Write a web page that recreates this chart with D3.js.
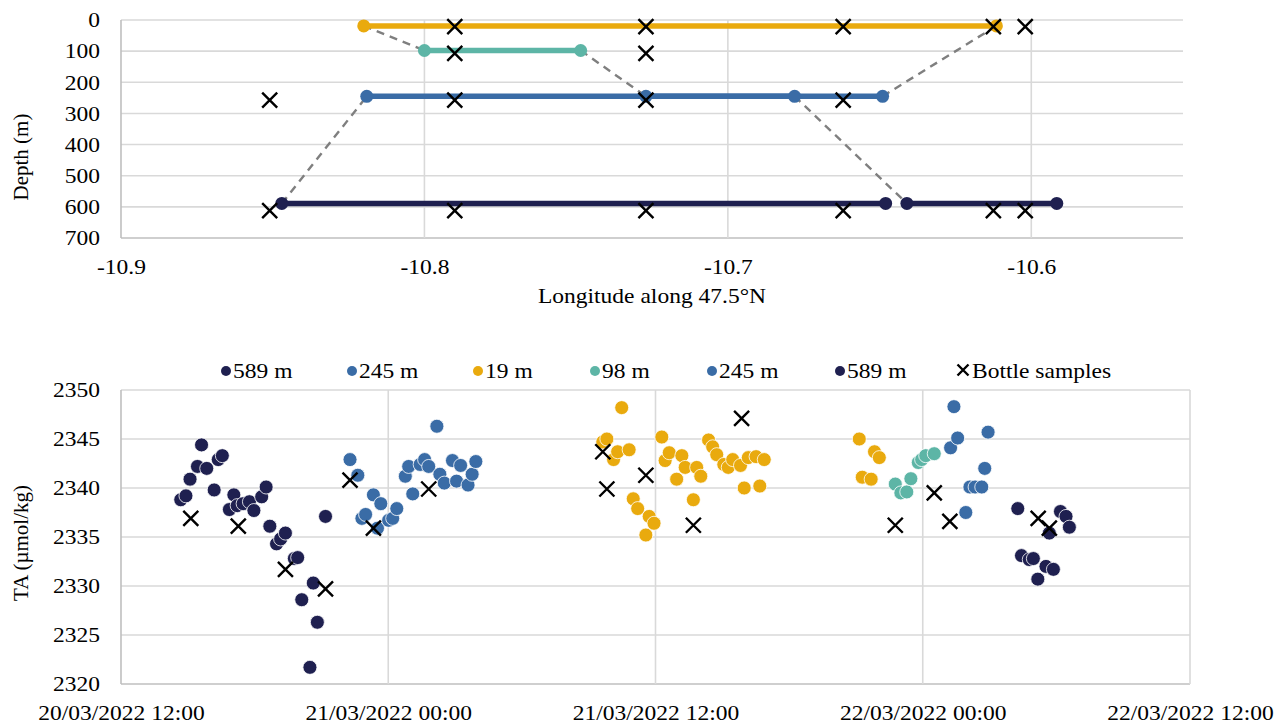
<!DOCTYPE html>
<html><head><meta charset="utf-8">
<script src="https://cdn.jsdelivr.net/npm/d3@7"></script>
<style>
body{margin:0;background:#fff}
</style>
</head><body>
<svg id="c" width="1275" height="724" font-family="Liberation Serif"></svg>
<script>
// ---------------- DATA ----------------
// Top chart: depth transects (in time order)
const segmentLabels   = ["589 m","245 m","19 m","98 m","245 m","589 m"];
const segmentDepths   = [589, 245, 19, 98, 245, 589];
const segmentStartLon = [-10.648, -10.819, -10.6115, -10.800, -10.727, -10.641];
const segmentEndLon   = [-10.847, -10.649, -10.820, -10.7485, -10.678, -10.5916];
// Top chart: bottle samples
const bottleLon   = [-10.851,-10.851, -10.790,-10.790,-10.790,-10.790, -10.727,-10.727,-10.727,-10.727, -10.662,-10.662,-10.662, -10.6125,-10.6125, -10.602,-10.602];
const bottleDepth = [257,612, 21,107,257,612, 21,107,257,612, 21,257,612, 21,612, 21,612];
const topXTicks = [-10.9,-10.8,-10.7,-10.6];
const topYTicks = [0,100,200,300,400,500,600,700];

// Bottom chart: TA time series
const s589aTime = ["2022-03-20 14:41","2022-03-20 14:55","2022-03-20 15:06","2022-03-20 15:26","2022-03-20 15:37","2022-03-20 15:51","2022-03-20 16:11","2022-03-20 16:22","2022-03-20 16:33","2022-03-20 16:52","2022-03-20 17:04","2022-03-20 17:13","2022-03-20 17:29","2022-03-20 17:46","2022-03-20 17:58","2022-03-20 18:19","2022-03-20 18:31","2022-03-20 18:41","2022-03-20 18:59","2022-03-20 19:10","2022-03-20 19:23","2022-03-20 19:47","2022-03-20 19:56","2022-03-20 20:07","2022-03-20 20:29","2022-03-20 20:38","2022-03-20 20:49","2022-03-20 21:11"];
const s589aTA   = [2338.8,2339.2,2340.9,2342.2,2344.4,2342.0,2339.8,2342.9,2343.3,2337.8,2339.3,2338.2,2338.4,2338.6,2337.7,2339.1,2340.1,2336.1,2334.3,2334.8,2335.4,2332.8,2332.9,2328.6,2321.7,2330.3,2326.3,2337.1];
const s245aTime = ["2022-03-20 22:17","2022-03-20 22:38","2022-03-20 22:49","2022-03-20 22:59","2022-03-20 23:20","2022-03-20 23:31","2022-03-20 23:40","2022-03-21 00:01","2022-03-21 00:12","2022-03-21 00:23","2022-03-21 00:46","2022-03-21 00:55","2022-03-21 01:06","2022-03-21 01:26","2022-03-21 01:38","2022-03-21 01:49","2022-03-21 02:11","2022-03-21 02:19","2022-03-21 02:31","2022-03-21 02:53","2022-03-21 03:04","2022-03-21 03:15","2022-03-21 03:35","2022-03-21 03:46","2022-03-21 03:56"];
const s245aTA   = [2342.9,2341.3,2336.9,2337.3,2339.3,2335.9,2338.4,2336.7,2336.9,2337.9,2341.2,2342.2,2339.4,2342.4,2342.9,2342.2,2346.3,2341.4,2340.5,2342.8,2340.7,2342.3,2340.3,2341.4,2342.7];
const s19Time = ["2022-03-21 09:38","2022-03-21 09:49","2022-03-21 10:07","2022-03-21 10:18","2022-03-21 10:29","2022-03-21 10:49","2022-03-21 11:00","2022-03-21 11:12","2022-03-21 11:34","2022-03-21 11:43","2022-03-21 11:56","2022-03-21 12:17","2022-03-21 12:26","2022-03-21 12:37","2022-03-21 12:57","2022-03-21 13:11","2022-03-21 13:20","2022-03-21 13:42","2022-03-21 13:51","2022-03-21 14:02","2022-03-21 14:23","2022-03-21 14:34","2022-03-21 14:45","2022-03-21 15:04","2022-03-21 15:16","2022-03-21 15:28","2022-03-21 15:49","2022-03-21 15:59","2022-03-21 16:10","2022-03-21 16:31","2022-03-21 16:41","2022-03-21 16:53","2022-03-21 21:09","2022-03-21 21:17","2022-03-21 21:41","2022-03-21 21:50","2022-03-21 22:03"];
const s19TA   = [2344.7,2345.0,2342.9,2343.7,2348.2,2343.9,2338.9,2337.9,2335.2,2337.1,2336.4,2345.2,2342.8,2343.6,2340.9,2343.3,2342.1,2338.8,2342.1,2341.2,2344.9,2344.2,2343.4,2342.4,2342.1,2342.9,2342.3,2340.0,2343.1,2343.2,2340.2,2342.9,2345.0,2341.1,2340.9,2343.7,2343.1];
const s98Time = ["2022-03-21 22:46","2022-03-21 23:01","2022-03-21 23:17","2022-03-21 23:28","2022-03-21 23:48","2022-03-21 23:57","2022-03-22 00:08","2022-03-22 00:31"];
const s98TA   = [2340.4,2339.5,2339.6,2340.95,2342.6,2342.9,2343.3,2343.5];
const s245bTime = ["2022-03-22 01:15","2022-03-22 01:24","2022-03-22 01:34","2022-03-22 01:56","2022-03-22 02:07","2022-03-22 02:21","2022-03-22 02:39","2022-03-22 02:47","2022-03-22 02:56"];
const s245bTA   = [2344.1,2348.3,2345.1,2337.5,2340.1,2340.1,2340.1,2342.0,2345.7];
const s589bTime = ["2022-03-22 04:16","2022-03-22 04:26","2022-03-22 04:47","2022-03-22 04:58","2022-03-22 05:10","2022-03-22 05:32","2022-03-22 05:41","2022-03-22 05:52","2022-03-22 06:11","2022-03-22 06:26","2022-03-22 06:35"];
const s589bTA   = [2337.9,2333.1,2332.7,2332.8,2330.7,2332.0,2335.4,2331.7,2337.6,2337.1,2336.0];
const bottleTime = ["2022-03-20 15:08","2022-03-20 17:16","2022-03-20 19:23","2022-03-20 21:11","2022-03-20 22:17","2022-03-20 23:20","2022-03-21 01:49","2022-03-21 09:38","2022-03-21 09:49","2022-03-21 11:34","2022-03-21 13:42","2022-03-21 15:52","2022-03-21 22:46","2022-03-22 00:31","2022-03-22 01:13","2022-03-22 05:11","2022-03-22 05:41"];
const bottleTA   = [2336.9,2336.1,2331.7,2329.7,2340.8,2335.9,2339.9,2343.7,2339.9,2341.3,2336.2,2347.1,2336.2,2339.5,2336.6,2336.9,2335.9];
const botXTickTimes  = ["2022-03-20 12:00","2022-03-21 00:00","2022-03-21 12:00","2022-03-22 00:00","2022-03-22 12:00"];
const botXTickLabels = ["20/03/2022 12:00","21/03/2022 00:00","21/03/2022 12:00","22/03/2022 00:00","22/03/2022 12:00"];
const botYTicks = [2320,2325,2330,2335,2340,2345,2350];

// ---------------- STYLE ----------------
const C_NAVY="#1f2050", C_BLUE="#3a6ca6", C_GOLD="#e9aa0e", C_TEAL="#5db5a6";
const depthColor = {"589 m":C_NAVY,"245 m":C_BLUE,"19 m":C_GOLD,"98 m":C_TEAL};
const GRID="#d9d9d9", AXIS="#bfbfbf", FS=21, SX=1.12;
const parse = d3.timeParse("%Y-%m-%d %H:%M");
const svg = d3.select("#c");
const xPath = s => `M${-s},${-s}L${s},${s}M${-s},${s}L${s},${-s}`;

// ---------------- TOP CHART ----------------
const xTop = d3.scaleLinear().domain([-10.9,-10.55]).range([121,1183]);
const yTop = d3.scaleLinear().domain([0,700]).range([20,238]);
const gTop = svg.append("g");
gTop.selectAll(".hg").data(topYTicks).join("line")
  .attr("x1",xTop(-10.9)).attr("x2",xTop(-10.55))
  .attr("y1",d=>yTop(d)).attr("y2",d=>yTop(d))
  .attr("stroke",d=>d===700?AXIS:GRID).attr("stroke-width",1.6);
gTop.selectAll(".vg").data(topXTicks).join("line")
  .attr("x1",d=>xTop(d)).attr("x2",d=>xTop(d))
  .attr("y1",yTop(0)).attr("y2",yTop(700))
  .attr("stroke",d=>d===-10.9?AXIS:GRID).attr("stroke-width",1.6);

gTop.append("g").attr("transform",`translate(${xTop(-10.9)},0)`)
  .call(d3.axisLeft(yTop).tickValues(topYTicks).tickSize(0).tickPadding(21).tickFormat(d=>d))
  .call(g=>g.select(".domain").remove());
gTop.append("g").attr("transform",`translate(0,${yTop(700)})`)
  .call(d3.axisBottom(xTop).tickValues(topXTicks).tickSize(0).tickPadding(21).tickFormat(d=>d.toFixed(1)))
  .call(g=>g.select(".domain").remove());

// dashed connectors
const connectors = d3.range(segmentDepths.length-1).map(i=>[[segmentEndLon[i],segmentDepths[i]],[segmentStartLon[i+1],segmentDepths[i+1]]]);
const lineTop = d3.line().x(d=>xTop(d[0])).y(d=>yTop(d[1]));
gTop.selectAll(".conn").data(connectors).join("path")
  .attr("d",lineTop).attr("fill","none").attr("stroke","#7f7f7f")
  .attr("stroke-width",2.4).attr("stroke-dasharray","8,6");
// segments
const segs = segmentDepths.map((d,i)=>({label:segmentLabels[i],pts:[[segmentStartLon[i],d],[segmentEndLon[i],d]]}));
gTop.selectAll(".seg").data(segs).join("path")
  .attr("d",d=>lineTop(d.pts)).attr("fill","none")
  .attr("stroke",d=>depthColor[d.label]).attr("stroke-width",5.5);
segs.forEach(s=>{
  gTop.append("g").selectAll("circle").data(s.pts).join("circle")
    .attr("cx",d=>xTop(d[0])).attr("cy",d=>yTop(d[1])).attr("r",6.5)
    .attr("fill",depthColor[s.label]);
});
// bottle samples
gTop.append("g").selectAll("path").data(bottleLon.map((l,i)=>[l,bottleDepth[i]])).join("path")
  .attr("transform",d=>`translate(${xTop(d[0])},${yTop(d[1])})`)
  .attr("d",xPath(7.5)).attr("stroke","#000").attr("stroke-width",2.4).attr("fill","none");

gTop.append("text").attr("x",(xTop(-10.9)+xTop(-10.55))/2).attr("y",303)
  .attr("text-anchor","middle").text("Longitude along 47.5°N");
gTop.append("text").attr("class","rot").attr("transform","translate(28,157) rotate(-90)")
  .attr("text-anchor","middle").text("Depth (m)");

// ---------------- BOTTOM CHART ----------------
const xBot = d3.scaleTime().domain([parse(botXTickTimes[0]),parse(botXTickTimes[4])]).range([121,1190]);
const yBot = d3.scaleLinear().domain([2320,2350]).range([684,390]);
const gBot = svg.append("g");
gBot.selectAll(".hg").data(botYTicks).join("line")
  .attr("x1",xBot.range()[0]).attr("x2",xBot.range()[1])
  .attr("y1",d=>yBot(d)).attr("y2",d=>yBot(d))
  .attr("stroke",d=>d===2320?AXIS:GRID).attr("stroke-width",1.6);
gBot.selectAll(".vg").data(botXTickTimes).join("line")
  .attr("x1",d=>xBot(parse(d))).attr("x2",d=>xBot(parse(d)))
  .attr("y1",yBot(2350)).attr("y2",yBot(2320))
  .attr("stroke",(d,i)=>i===0?AXIS:GRID).attr("stroke-width",1.6);

gBot.append("g").attr("transform",`translate(${xBot.range()[0]},0)`)
  .call(d3.axisLeft(yBot).tickValues(botYTicks).tickSize(0).tickPadding(21).tickFormat(d=>d))
  .call(g=>g.select(".domain").remove());
gBot.append("g").attr("transform",`translate(0,${yBot(2320)})`)
  .call(d3.axisBottom(xBot).tickValues(botXTickTimes.map(parse)).tickSize(0).tickPadding(21)
        .tickFormat((d,i)=>botXTickLabels[i]))
  .call(g=>g.select(".domain").remove());

const series = [
  {label:"589 m",time:s589aTime,ta:s589aTA},
  {label:"245 m",time:s245aTime,ta:s245aTA},
  {label:"19 m",time:s19Time,ta:s19TA},
  {label:"98 m",time:s98Time,ta:s98TA},
  {label:"245 m",time:s245bTime,ta:s245bTA},
  {label:"589 m",time:s589bTime,ta:s589bTA}
];
series.forEach(s=>{
  gBot.append("g").selectAll("circle").data(s.time.map((t,i)=>[parse(t),s.ta[i]])).join("circle")
    .attr("cx",d=>xBot(d[0])).attr("cy",d=>yBot(d[1])).attr("r",7)
    .attr("fill",depthColor[s.label]).attr("stroke","#fff").attr("stroke-width",0.8);
});
gBot.append("g").selectAll("path").data(bottleTime.map((t,i)=>[parse(t),bottleTA[i]])).join("path")
  .attr("transform",d=>`translate(${xBot(d[0])},${yBot(d[1])})`)
  .attr("d",xPath(7.5)).attr("stroke","#000").attr("stroke-width",2.4).attr("fill","none");

gBot.append("text").attr("class","rot").attr("transform","translate(28,543) rotate(-90)")
  .attr("text-anchor","middle").text("TA (µmol/kg)");

// legend
const legX = [226,352,478,595,712,840];
const leg = svg.append("g");
series.forEach((s,i)=>{
  leg.append("circle").attr("cx",legX[i]).attr("cy",371).attr("r",5).attr("fill",depthColor[s.label]);
  leg.append("text").attr("x",legX[i]+7).attr("y",378).text(s.label);
});
leg.append("path").attr("transform","translate(963,370)").attr("d",xPath(5.5))
  .attr("stroke","#000").attr("stroke-width",2.4).attr("fill","none");
leg.append("text").attr("x",972).attr("y",378).text("Bottle samples");

// fonts + horizontal stretch of non-rotated text to match reference glyph widths
svg.selectAll("g").attr("font-family",null).attr("font-size",null);
svg.selectAll("text").attr("font-family","Liberation Serif").attr("font-size",FS).attr("fill","#000");
svg.selectAll("text").filter(function(){return !this.classList.contains("rot");}).each(function(){
  const t=d3.select(this); const x=+t.attr("x")||0, y=+t.attr("y")||0;
  const prev=t.attr("transform")||"";
  t.attr("transform",`${prev} translate(${x},${y}) scale(${SX},1) translate(${-x},${-y})`);
});
</script>
</body></html>
